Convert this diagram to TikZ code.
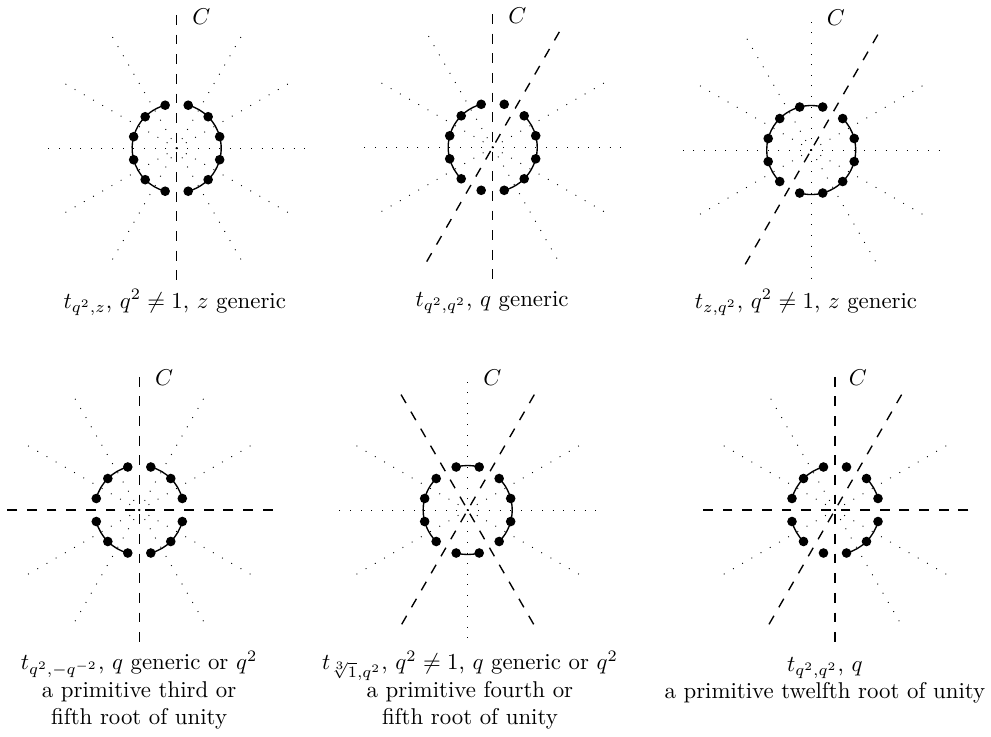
\documentclass[tikz,border=0pt]{standalone}
\usepackage{amsmath,amssymb}
\usepackage{tikz}

% rays at the given angles and twelve points on the circle
\newcommand{\rootwheel}[1]{%
  \foreach \k in {#1} {
    \draw[ray] (0,0) -- (\k:2.03);
  }
  \foreach \k in {0,...,11} {
    \fill (15+30*\k:0.685) circle (0.074);
  }
}

\begin{document}
\begin{tikzpicture}[
  ray/.style={line width=0.4pt,dash pattern=on 0.4pt off 4.25pt},
  mirror/.style={line width=0.6pt,dash pattern=on 4.3pt off 4.3pt},
  orbit/.style={line width=0.6pt},
  captext/.style={font=\normalsize,align=center,anchor=base}]
  \useasboundingbox (0,0) rectangle (15.246,-11.323);
  % t_{q^2,z}
  \begin{scope}[shift={(2.718,-2.28)}]
    \foreach \a/\b in {105/255,-75/75} {
      \draw[orbit] (\a:0.685) arc[start angle=\a,end angle=\b,radius=0.685];
    }
    \rootwheel{0,30,60,120,150,180,210,240,300,330}
    \draw[mirror] (90:2.05) -- (270:2.05);
    \node (c1) at (0.38,2.03) {$C$};
  \end{scope}
  \node[captext] (l1) at (2.69,-4.74) {$t_{q^2,z}$, $q^2\neq 1$, $z$ generic};
  % t_{q^2,q^2}
  \begin{scope}[shift={(7.58,-2.266)}]
    \foreach \a/\b in {105/225,-75/45} {
      \draw[orbit] (\a:0.685) arc[start angle=\a,end angle=\b,radius=0.685];
    }
    \rootwheel{0,30,120,150,180,210,300,330}
    \draw[mirror] (90:2.05) -- (270:2.05);
    \draw[mirror] (60:2.05) -- (240:2.05);
    \node (c2) at (0.38,2.03) {$C$};
  \end{scope}
  \node[captext] (l2) at (7.57,-4.71) {$t_{q^2,q^2}$, $q$ generic};
  % t_{z,q^2}
  \begin{scope}[shift={(12.48,-2.308)}]
    \foreach \a/\b in {75/225,255/405} {
      \draw[orbit] (\a:0.685) arc[start angle=\a,end angle=\b,radius=0.685];
    }
    \rootwheel{0,30,90,120,150,180,210,270,300,330}
    \draw[mirror] (60:2.05) -- (240:2.05);
    \node (c3) at (0.38,2.03) {$C$};
  \end{scope}
  \node[captext] (l3) at (12.4,-4.74) {$t_{z,q^2}$, $q^2\neq 1$, $z$ generic};
  % t_{q^2,-q^{-2}}
  \begin{scope}[shift={(2.143,-7.846)}]
    \foreach \a/\b in {15/75,105/165,195/255,285/345} {
      \draw[orbit] (\a:0.685) arc[start angle=\a,end angle=\b,radius=0.685];
    }
    \rootwheel{30,60,120,150,210,240,300,330}
    \draw[mirror] (90:2.05) -- (270:2.05);
    \draw[mirror] (0:2.05) -- (180:2.05);
    \node (c4) at (0.38,2.03) {$C$};
  \end{scope}
  \node[captext] (l4) at (2.14,-11.15) {$t_{q^2,-q^{-2}}$, $q$ generic or $q^2$\\
    a primitive third or\\ fifth root of unity};
  % t_{cube root of 1,q^2}
  \begin{scope}[shift={(7.195,-7.846)}]
    \foreach \a/\b in {75/105,135/225,255/285,315/405} {
      \draw[orbit] (\a:0.685) arc[start angle=\a,end angle=\b,radius=0.685];
    }
    \rootwheel{0,30,90,150,180,210,270,330}
    \draw[mirror] (60:2.05) -- (240:2.05);
    \draw[mirror] (120:2.05) -- (300:2.05);
    \node (c5) at (0.38,2.03) {$C$};
  \end{scope}
  \node[captext] (l5) at (7.23,-11.15) {$t_{\sqrt[3]{1},q^2}$, $q^2\neq 1$, $q$ generic or $q^2$\\
    a primitive fourth or\\ fifth root of unity};
  % t_{q^2,q^2}, twelfth root
  \begin{scope}[shift={(12.846,-7.846)}]
    \foreach \a/\b in {15/45,105/165,195/225,285/345} {
      \draw[orbit] (\a:0.685) arc[start angle=\a,end angle=\b,radius=0.685];
    }
    \rootwheel{30,120,150,210,300,330}
    \draw[mirror] (90:2.05) -- (270:2.05);
    \draw[mirror] (0:2.05) -- (180:2.05);
    \draw[mirror] (60:2.05) -- (240:2.05);
    \node (c6) at (0.35,2.03) {$C$};
  \end{scope}
  \node[captext] (l6) at (12.69,-10.75) {$t_{q^2,q^2}$, $q$\\
    a primitive twelfth root of unity};
\end{tikzpicture}
\end{document}
